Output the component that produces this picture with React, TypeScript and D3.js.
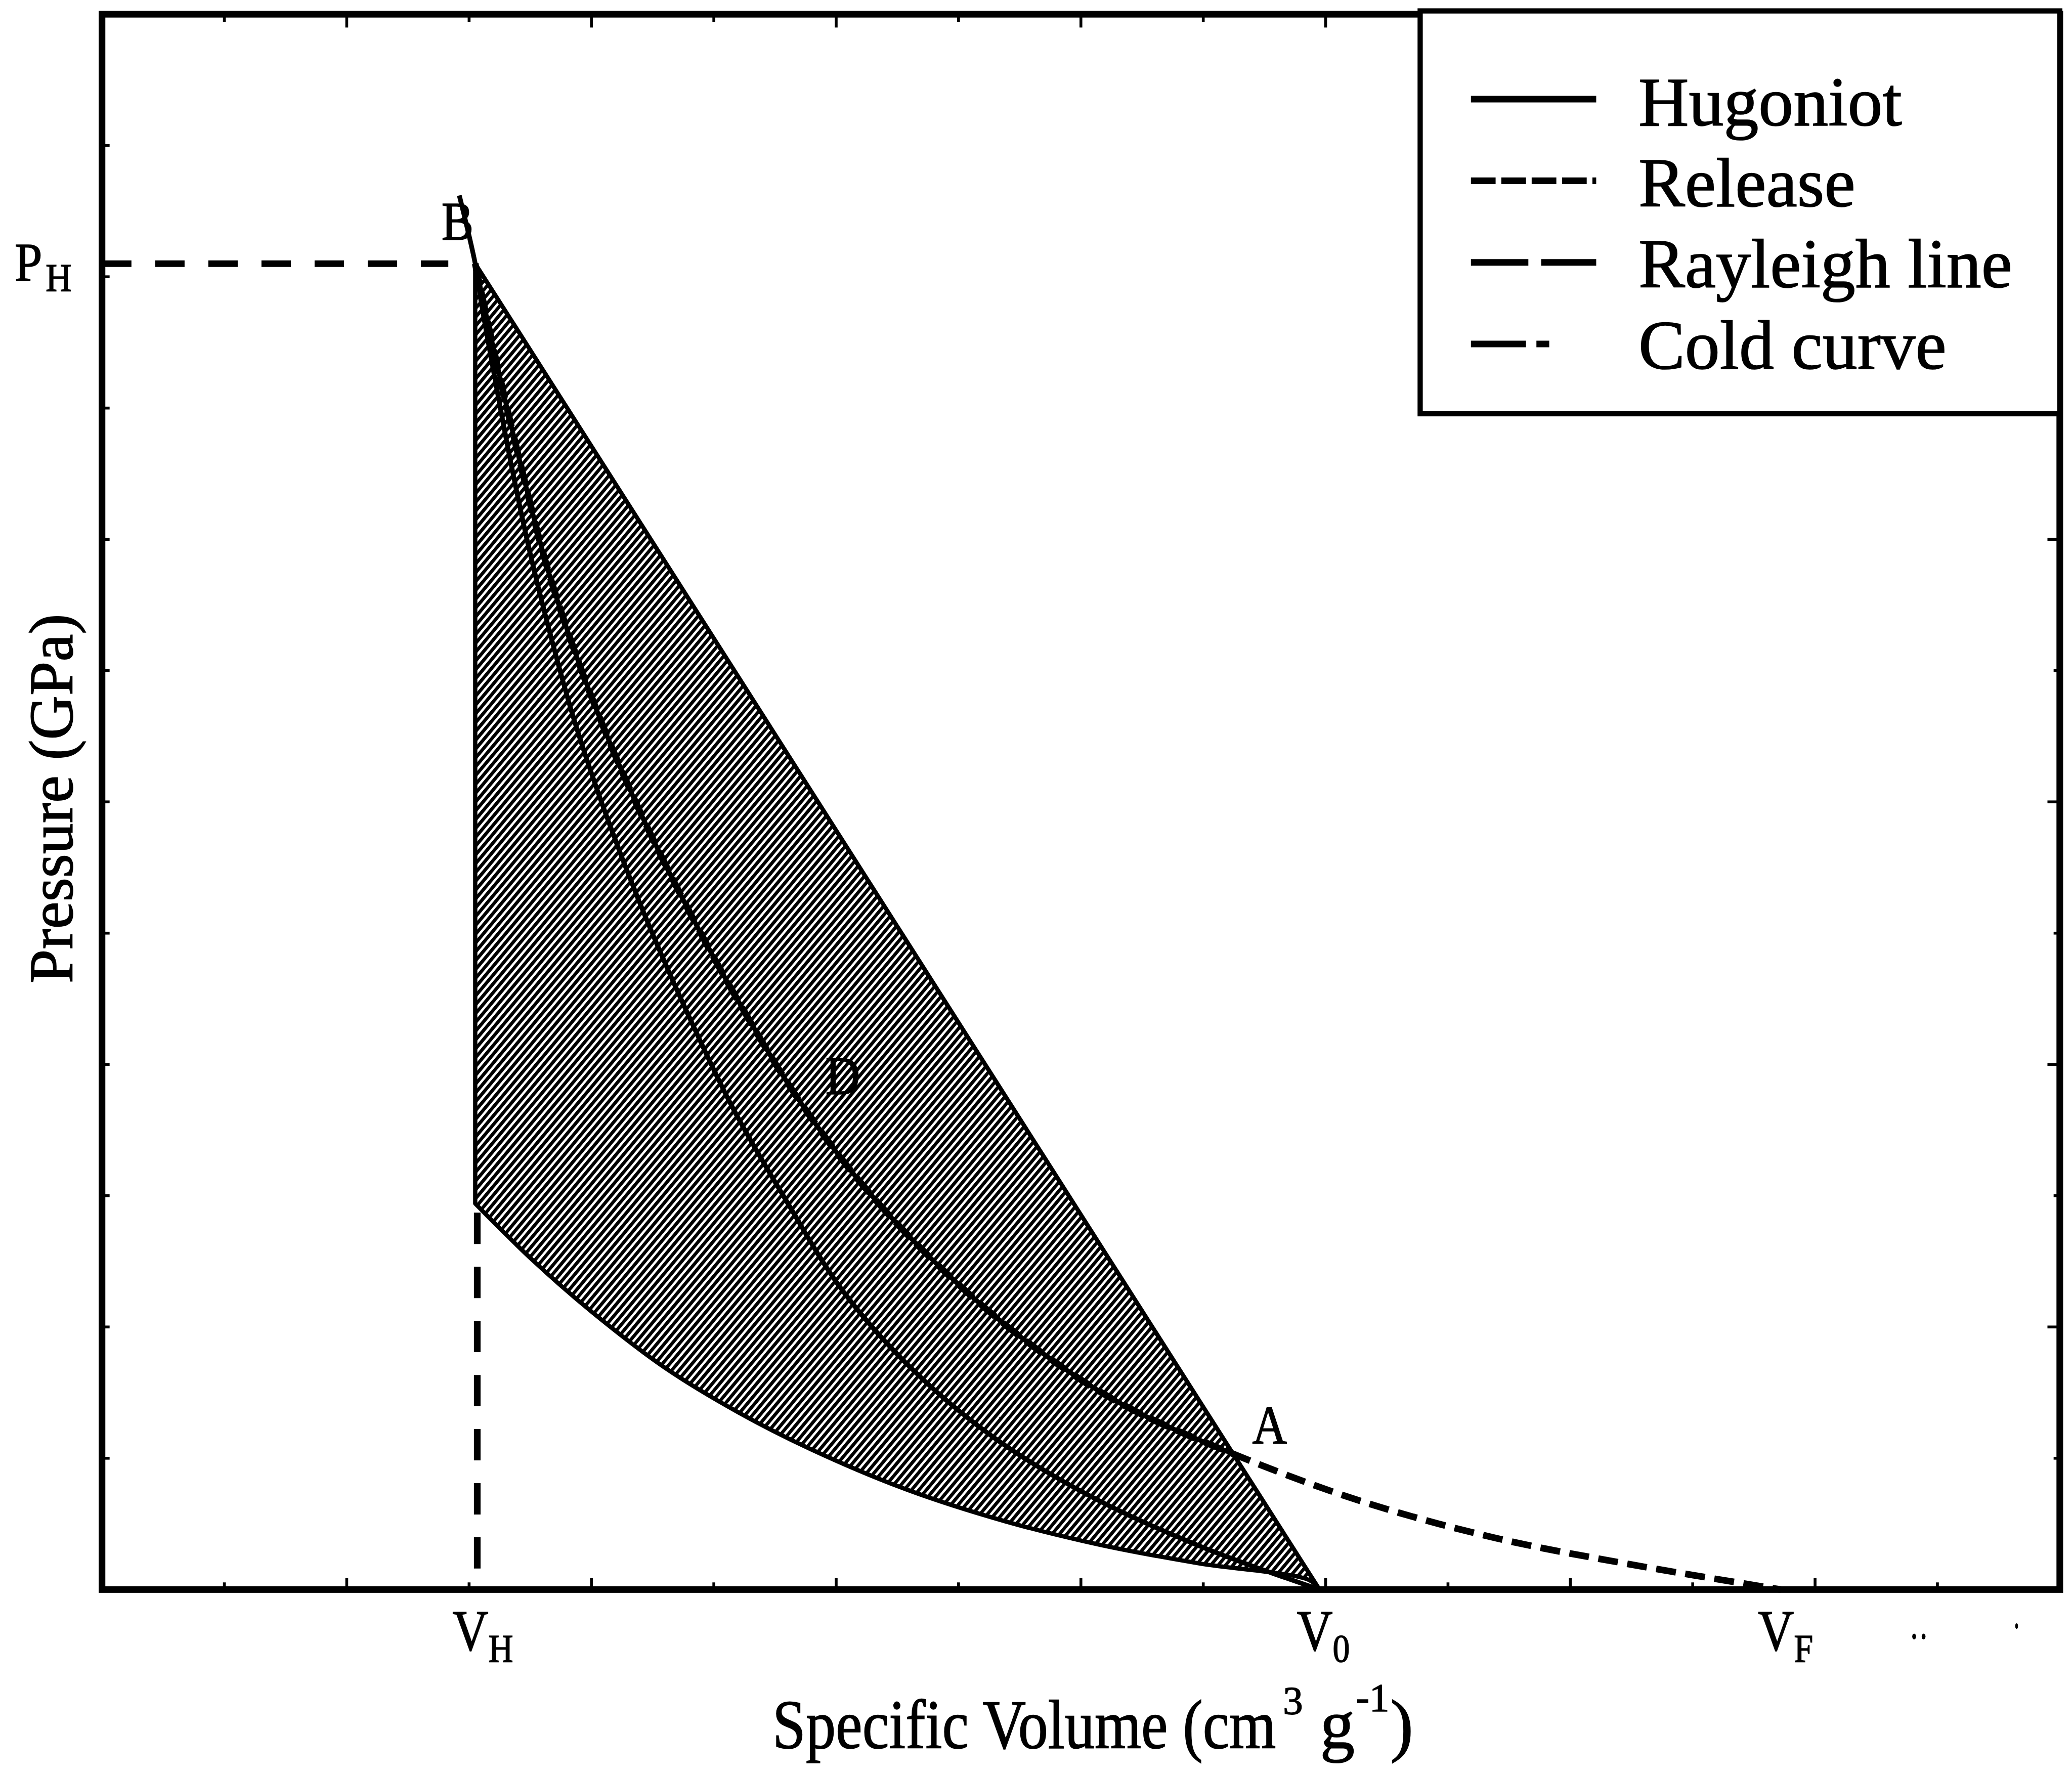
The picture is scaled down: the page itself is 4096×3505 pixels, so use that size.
import React from 'react';
import * as d3 from 'd3';

// ---------- data (abstract units: volume 0..16, pressure 0..12) ----------
const xTickValues = d3.range(1, 16);
const yTickValues = d3.range(1, 12);

const specialVolumes = [3.05, 9.95, 13.72]; // V_H, V_0, V_F
const specialVolumeSubs = ['H', '0', 'F'];
const specialPressures = [10.1]; // P_H
const specialPressureSubs = ['H'];

const hugoniot: [number, number][] = [
  [2.92, 10.62], [3.05, 10.1], [3.1, 9.8], [3.21, 9.23], [3.34, 8.59], [3.49, 7.93],
  [3.66, 7.29], [3.86, 6.62], [4.12, 5.9], [4.43, 5.15], [4.78, 4.4], [5.16, 3.66],
  [5.6, 2.95], [6.05, 2.28], [6.62, 1.68], [7.3, 1.15], [8.1, 0.7], [9.0, 0.32],
  [9.95, 0],
];

const release: [number, number][] = [
  [3.05, 10.1], [3.2, 9.45], [3.4, 8.65], [3.65, 7.75], [3.98, 6.85], [4.36, 6.0],
  [4.78, 5.2], [5.22, 4.45], [5.68, 3.75], [6.2, 3.1], [6.8, 2.5], [7.5, 1.93],
  [8.3, 1.43], [9.28, 1.02], [10.3, 0.67], [11.4, 0.39], [12.5, 0.19], [13.72, 0],
];

const coldCurve: [number, number][] = [
  [3.05, 2.94], [3.53, 2.5], [4.01, 2.11], [4.6, 1.69], [5.2, 1.35], [5.79, 1.07],
  [6.58, 0.76], [7.38, 0.52], [8.16, 0.34], [8.96, 0.2], [9.87, 0.07], [9.95, 0],
];

const rayleigh: [number, number][] = [[3.05, 10.1], [9.95, 0]];

const pointLabels = ['B', 'D', 'A'];
const pointAnchors: [number, number][] = [[3.05, 10.1], [5.575, 3.91], [9.28, 1.03]];

const legendLabels = ['Hugoniot', 'Release', 'Rayleigh line', 'Cold curve'];

// ---------- layout / styles ----------
const S = 0.938;
const W = 4096;
const H = 3505;
const FONT = "'Liberation Serif', 'Times New Roman', Times, serif";
const legendDash = ['', `${52 * S} ${12 * S}`, `${121 * S} ${27 * S}`, `${116 * S} ${22 * S} ${27 * S} ${110 * S}`];
const pointLabelOffsets = [[-71, -50], [87, 38], [31, -22]];
const TEXT_STROKE = 1.6;

export default function App() {
  const x = d3.scaleLinear().domain([0, 16]).range([215 * S, 4341 * S]);
  const y = d3.scaleLinear().domain([0, 12]).range([3350 * S, 30 * S]);

  const curve = d3
    .line<[number, number]>()
    .x((d) => x(d[0]))
    .y((d) => y(d[1]))
    .curve(d3.curveCatmullRom.alpha(0.5));

  const coldRev = coldCurve.slice().reverse();
  const hatchPath =
    (curve(coldRev) as string) +
    `L${x(rayleigh[0][0])},${y(rayleigh[0][1])}Z`;

  const x0 = x(0), x1 = x(16), yb = y(0), yt = y(12);
  const VH = specialVolumes[0];
  const PH = specialPressures[0];

  return (
    <svg
      width={W}
      height={H}
      style={{ position: 'absolute', left: 0, top: 0, background: '#fff' }}
      fontFamily={FONT}
    >
      <defs>
        <pattern
          id="hatch"
          patternUnits="userSpaceOnUse"
          width={11.2}
          height={11.2}
          patternTransform="rotate(40)"
        >
          <rect x={0} y={0} width={6.6} height={11.2} fill="#000" />
        </pattern>
        <clipPath id="hclip">
          <path d={hatchPath} />
        </clipPath>
      </defs>
      <rect x={0} y={0} width={W} height={H} fill="#fff" />

      {/* hatched region */}
      <path d={hatchPath} fill="url(#hatch)" stroke="#000" strokeWidth={9 * S} strokeLinejoin="round" />

      {/* Hugoniot */}
      <path d={curve(hugoniot) as string} fill="none" stroke="#000" strokeWidth={10 * S} />

      {/* Release: solid inside hatch, dashed elsewhere */}
      <path
        d={curve(release) as string}
        fill="none"
        stroke="#000"
        strokeWidth={10 * S}
        clipPath="url(#hclip)"
      />
      <path
        d={curve(release) as string}
        fill="none"
        stroke="#000"
        strokeWidth={14 * S}
        strokeDasharray={`${42 * S} ${20 * S}`}
      />

      {/* P_H horizontal dashed line */}
      <line
        x1={x0}
        x2={x(2.83)}
        y1={y(PH)}
        y2={y(PH)}
        stroke="#000"
        strokeWidth={14 * S}
        strokeDasharray={`${62 * S} ${50 * S}`}
      />
      {/* V_H vertical dashed line */}
      <line
        x1={x(VH) + 4}
        x2={x(VH) + 4}
        y1={y(coldCurve[0][1]) + 18}
        y2={yb}
        stroke="#000"
        strokeWidth={14 * S}
        strokeDasharray={`${66 * S} ${48 * S}`}
      />

      {/* frame */}
      <rect
        x={x0}
        y={yt}
        width={x1 - x0}
        height={yb - yt}
        fill="none"
        stroke="#000"
        strokeWidth={14 * S}
      />

      {/* ticks */}
      {xTickValues.map((v) => (
        <g key={'xt' + v}>
          <line x1={x(v)} x2={x(v)} y1={yb} y2={yb - (v % 2 === 0 ? 24 : 15) * S} stroke="#000" strokeWidth={6 * S} />
          <line x1={x(v)} x2={x(v)} y1={yt} y2={yt + (v % 2 === 0 ? 28 : 16) * S} stroke="#000" strokeWidth={6 * S} />
        </g>
      ))}
      {yTickValues.map((v) => (
        <g key={'yt' + v}>
          <line x1={x0} x2={x0 + 16 * S} y1={y(v)} y2={y(v)} stroke="#000" strokeWidth={6 * S} />
          <line x1={x1} x2={x1 - (v % 2 === 0 ? 26 : 13) * S} y1={y(v)} y2={y(v)} stroke="#000" strokeWidth={6 * S} />
        </g>
      ))}

      {/* legend */}
      <rect
        x={2993 * S}
        y={23 * S}
        width={1348 * S}
        height={849 * S}
        fill="#fff"
        stroke="#000"
        strokeWidth={11 * S}
      />
      {legendLabels.map((lab, i) => (
        <g key={lab}>
          <line
            x1={3100 * S}
            x2={3364 * S}
            y1={(209 + i * 172) * S}
            y2={(209 + i * 172) * S}
            stroke="#000"
            strokeWidth={14 * S}
            strokeDasharray={legendDash[i] || undefined}
          />
          <text
            x={3453 * S}
            y={(264 + i * 171) * S}
            fontSize={147 * S}
            fill="#000"
            stroke="#000"
            strokeWidth={TEXT_STROKE}
          >
            {lab}
          </text>
        </g>
      ))}

      <g fill="#000" stroke="#000" strokeWidth={TEXT_STROKE}>
        {/* special volume tick labels */}
        {specialVolumes.map((v, i) => (
          <text
            key={'sv' + i}
            transform={`translate(${x(v) - 48 * S},${3478 * S}) scale(0.86,1)`}
            fontSize={122 * S}
          >
            V
            <tspan fontSize={84 * S} dy={24 * S}>
              {specialVolumeSubs[i]}
            </tspan>
          </text>
        ))}

        {/* special pressure tick label */}
        {specialPressures.map((p, i) => (
          <text
            key={'sp' + i}
            transform={`translate(${31 * S},${y(p) + 36 * S}) scale(0.9,1)`}
            fontSize={116 * S}
          >
            P
            <tspan fontSize={84 * S} dx={8 * S} dy={21 * S}>
              {specialPressureSubs[i]}
            </tspan>
          </text>
        ))}

        {/* point labels */}
        {pointLabels.map((lab, i) => (
          <text
            key={'pl' + lab}
            transform={`translate(${x(pointAnchors[i][0]) + pointLabelOffsets[i][0] * S},${
              y(pointAnchors[i][1]) + pointLabelOffsets[i][1] * S
            }) scale(0.88,1)`}
            fontSize={115 * S}
          >
            {lab}
          </text>
        ))}

        {/* axis titles */}
        <text
          transform={`translate(${152 * S},${1683 * S}) rotate(-90)`}
          textAnchor="middle"
          fontSize={132 * S}
          textLength={779 * S}
          lengthAdjust="spacingAndGlyphs"
        >
          Pressure (GPa)
        </text>
        <text
          x={1628 * S}
          y={3684 * S}
          fontSize={146 * S}
          textLength={1061 * S}
          lengthAdjust="spacingAndGlyphs"
        >
          Specific Volume (cm
        </text>
        <text fontSize={146 * S}>
          <tspan fontSize={84 * S} x={2704 * S} y={3612 * S}>
            3
          </tspan>
          <tspan x={2782 * S} y={3684 * S}>
            {'g'}
          </tspan>
          <tspan fontSize={84 * S} x={2858 * S} y={3606 * S}>
            -1
          </tspan>
          <tspan x={2930 * S} y={3684 * S}>
            )
          </tspan>
        </text>
      </g>

      {/* stray print marks near the right end of the axis */}
      <ellipse cx={4034 * S} cy={3449 * S} rx={4 * S} ry={6 * S} fill="#000" />
      <ellipse cx={4054 * S} cy={3449 * S} rx={4 * S} ry={6 * S} fill="#000" />
      <ellipse cx={4250 * S} cy={3427 * S} rx={3 * S} ry={6 * S} fill="#000" />
    </svg>
  );
}
